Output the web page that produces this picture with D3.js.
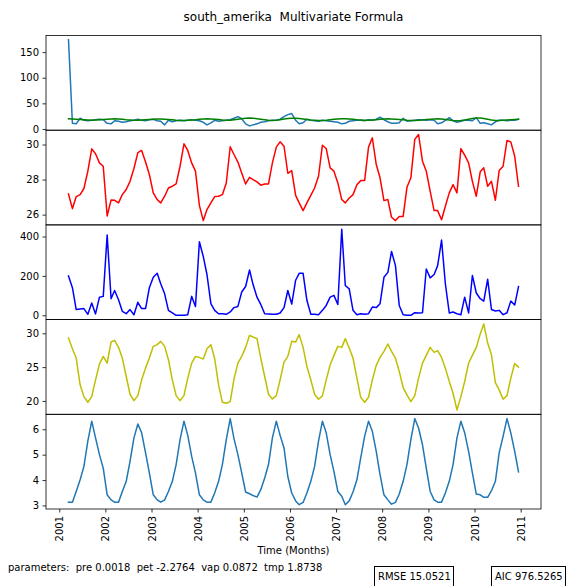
<!DOCTYPE html>
<html><head><meta charset="utf-8">
<script src="https://cdn.jsdelivr.net/npm/d3@7"></script>
<style>
body{margin:0;background:#fff}
svg{display:block}
text{font-family:"DejaVu Sans",sans-serif;fill:#000;white-space:pre}
</style>
</head><body>
<svg id="chart" width="568" height="586"></svg>
<script>
// ---- data ----
const titleText = "south_amerika  Multivariate Formula";
const startYear = 2001, startMonth = 3; // first monthly sample (March 2001)
const observed = [174,11,10,21,17,16,17,18,19,18,
 11,10,16,15,13,14,16,17,19,17,
 16,18,19,16,15,8,17,14,16,17,
 16,17,18,17,16,13,8,12,17,15,
 16,17,18,21,24,20,10,6,8,10,
 13,14,16,17,17,19,24,28,30,17,
 10,12,19,17,16,15,17,16,15,14,
 13,10,11,15,16,17,17,16,18,17,
 19,23,18,14,11,11,12,21,15,16,
 17,18,18,17,18,17,10,12,17,22,
 16,13,15,17,17,16,22,11,12,10,
 8,14,17,17,16,17,17,19];
const modelled = [20,19.5,19,18.5,18,17.5,17,17.5,18,18.5,19,19.5,
 20,19.5,19,18,17.5,17,17,17.5,18,18.5,19,19.5,
 19.5,19,18.5,18,17,16.5,16.5,17,17.5,18,19,19.5,
 20,19.5,19,18.5,17.5,17,17,18,19,20,21,21.5,
 21,20,19,18,17,16.5,17,18,19.5,20.5,21,21,
 20.5,19.5,18.5,17.5,17,16.5,16.5,17,18,19,19.5,20,
 20,19.5,19,18,17.5,17,17,17.5,18,19,19.5,20,
 19.5,19,18.5,18,17,16.5,16.5,17,17.5,18.5,19,19.5,
 20,19.5,18.5,17.5,16.5,16,16.5,17.5,19,20.5,21.5,21.5,
 20.5,19,17.5,16.5,16.5,17,17.5,18,18.5,19];
const tmpSeries = [27.18,26.34,27.03,27.14,27.49,28.48,29.75,29.47,28.95,28.76,
 25.92,26.84,26.82,26.67,27.14,27.43,27.90,28.63,29.54,29.66,
 29.00,28.29,27.24,26.86,26.67,27.05,27.52,27.62,27.75,28.76,
 30.04,29.66,28.95,28.48,26.53,25.66,26.29,26.67,27.03,27.05,
 27.14,27.81,29.87,29.43,29.00,28.38,27.75,28.13,28.00,27.87,
 27.68,27.75,27.75,28.95,29.85,30.15,29.90,28.36,28.51,27.10,
 26.67,26.23,26.67,27.10,27.52,28.19,29.96,29.77,28.67,28.48,
 27.81,26.86,26.67,26.95,27.14,27.71,27.94,27.94,29.85,30.38,
 28.86,28.10,26.80,26.86,25.85,25.66,25.90,25.90,27.56,28.10,
 30.29,30.57,29.05,28.48,27.33,26.23,26.23,25.71,26.48,27.24,
 27.71,27.24,29.77,29.39,28.95,27.90,27.05,28.44,28.67,27.62,
 27.90,26.82,28.51,28.76,30.23,30.15,29.33,27.62];
const preSeries = [200,140,29,32,34,5,62,7,92,96,
 408,84,126,79,20,8,29,3,66,34,
 34,140,193,213,160,109,25,12,0,0,
 0,3,96,45,373,298,207,59,25,8,
 8,5,17,39,45,118,146,230,156,92,
 55,8,7,5,5,12,39,126,57,178,
 213,213,76,5,5,3,25,50,92,101,
 55,437,151,134,25,3,8,5,8,42,
 39,59,193,218,324,252,50,3,0,0,
 13,12,13,235,190,207,252,382,160,12,
 17,8,3,92,12,202,113,84,72,183,
 29,22,25,3,13,72,52,146];
const vapSeries = [29.31,27.72,26.34,22.38,20.64,19.80,20.64,23.12,25.45,26.58,
 25.59,28.71,28.96,27.92,26.34,23.61,20.99,20.05,20.79,23.12,
 24.85,26.34,28.07,28.32,28.81,28.07,26.09,23.12,20.79,20.05,
 20.79,23.37,25.59,26.58,26.44,26.19,27.72,28.32,26.24,22.38,
 19.80,19.65,19.90,23.22,25.59,26.58,27.92,29.70,29.46,29.21,
 26.34,23.61,20.99,20.30,20.79,23.12,25.74,26.58,28.81,28.71,
 29.80,27.92,25.10,23.12,20.99,20.25,20.74,23.12,25.35,26.73,
 28.07,27.92,29.21,27.82,26.34,23.37,20.54,19.80,20.54,23.12,
 25.25,26.44,27.33,28.42,27.33,26.34,24.36,21.98,20.89,19.90,
 20.79,23.37,25.59,26.73,27.92,27.18,27.43,26.44,24.85,22.87,
 21.14,18.66,20.64,22.87,25.59,26.73,27.92,29.90,31.39,28.56,
 26.83,22.72,21.63,20.25,20.79,23.37,25.54,25.00];
const petSeries = [3.13,3.13,3.55,4.01,4.54,5.53,6.32,5.66,5.00,4.47,
 3.42,3.22,3.13,3.13,3.55,3.95,4.74,5.66,6.21,5.86,
 5.07,4.28,3.42,3.22,3.13,3.22,3.55,3.95,4.61,5.59,
 6.32,5.76,4.93,4.28,3.42,3.22,3.13,3.13,3.49,3.95,
 4.61,5.59,6.42,5.63,5.00,4.28,3.53,3.46,3.39,3.33,
 3.62,4.08,4.61,5.66,6.32,5.76,5.26,4.14,3.49,3.18,
 3.03,3.12,3.49,3.95,4.54,5.53,6.32,5.86,5.00,4.34,
 3.55,3.36,3.03,3.18,3.53,4.01,4.87,5.72,6.32,5.92,
 5.13,4.21,3.42,3.22,3.05,3.12,3.45,3.95,4.61,5.59,
 6.42,6.05,5.39,4.47,3.55,3.22,3.13,3.13,3.49,3.95,
 4.61,5.66,6.32,5.86,5.13,4.28,3.45,3.42,3.32,3.32,
 3.58,3.95,5.07,5.72,6.42,5.86,5.13,4.32];
const ticks1 = [0,50,100,150];
const ticks2 = [26,28,30];
const ticks3 = [0,200,400];
const ticks4 = [20,25,30];
const ticks5 = [3,4,5,6];
const yearTicks = [2001,2002,2003,2004,2005,2006,2007,2008,2009,2010,2011];
const xLabel = "Time (Months)";
const paramText = "parameters:  pre 0.0018  pet -2.2764  vap 0.0872  tmp 1.8738";
const rmseText = "RMSE 15.0521";
const aicText = "AIC 976.5265";

// ---- layout ----
const svg = d3.select("#chart");
const L = 46, R = 541, T = 35.5, B = 509;
const ph = (B - T) / 5;

const dates = observed.map((_, i) => new Date(startYear, startMonth - 1 + i, 15));
const t0 = +dates[0], t1 = +dates[dates.length - 1], span = t1 - t0;
const x = d3.scaleTime().domain([new Date(t0 - 0.05 * span), new Date(t1 + 0.05 * span)]).range([L, R]);

const panels = [
  {series: [{v: observed, c: "#1f77b4"}, {v: modelled, c: "#008000"}], ticks: ticks1},
  {series: [{v: tmpSeries, c: "#ff0000"}], ticks: ticks2},
  {series: [{v: preSeries, c: "#0000ff"}], ticks: ticks3},
  {series: [{v: vapSeries, c: "#bfbf00"}], ticks: ticks4},
  {series: [{v: petSeries, c: "#1f77b4"}], ticks: ticks5}
];

panels.forEach((p, k) => {
  const top = T + k * ph, bot = top + ph;
  const all = p.series.flatMap(s => s.v);
  const mn = d3.min(all), mx = d3.max(all), m = 0.05 * (mx - mn);
  const y = d3.scaleLinear().domain([mn - m, mx + m]).range([bot, top]);
  const g = svg.append("g");
  const clipId = "clip" + k;
  svg.append("clipPath").attr("id", clipId).append("rect")
    .attr("x", L).attr("y", top).attr("width", R - L).attr("height", ph);
  p.series.forEach(s => {
    g.append("path").datum(s.v)
      .attr("clip-path", `url(#${clipId})`)
      .attr("fill", "none").attr("stroke", s.c).attr("stroke-width", 1.5)
      .attr("stroke-linejoin", "round").attr("stroke-linecap", "square")
      .attr("d", d3.line().x((d, i) => x(dates[i])).y(d => y(d)));
  });
  const ax = g.append("g").attr("transform", `translate(${L},0)`)
    .call(d3.axisLeft(y).tickValues(p.ticks).tickFormat(d3.format("d")).tickSize(3.5).tickPadding(3.5));
  ax.select(".domain").remove();
  ax.selectAll("line").attr("stroke", "#000").attr("stroke-width", 0.8);
  ax.selectAll("text").attr("font-size", 10).attr("fill", "#000").style("font-family", "DejaVu Sans");
  g.append("rect").attr("x", L).attr("y", top).attr("width", R - L).attr("height", ph)
    .attr("fill", "none").attr("stroke", "#000").attr("stroke-width", 0.8);
});

// bottom x axis
const yearDates = yearTicks.map(yv => new Date(yv, 0, 1));
const xa = svg.append("g").attr("transform", `translate(0,${B})`)
  .call(d3.axisBottom(x).tickValues(yearDates).tickFormat(d3.timeFormat("%Y")).tickSize(3.5));
xa.select(".domain").remove();
xa.selectAll("line").attr("stroke", "#000").attr("stroke-width", 0.8);
xa.selectAll("text")
  .attr("transform", "rotate(-90)")
  .attr("text-anchor", "end")
  .attr("x", -7).attr("y", 0).attr("dy", "0.35em")
  .attr("font-size", 10).attr("fill", "#000").style("font-family", "DejaVu Sans");

// texts
svg.append("text").attr("x", (L + R) / 2).attr("y", 21).attr("text-anchor", "middle")
  .attr("font-size", 12).attr("xml:space", "preserve").text(titleText);
svg.append("text").attr("x", (L + R) / 2).attr("y", 554).attr("text-anchor", "middle")
  .attr("font-size", 10).text(xLabel);
svg.append("text").attr("x", 8).attr("y", 571).attr("font-size", 10)
  .attr("xml:space", "preserve").text(paramText);

function boxed(txt, x0, x1) {
  svg.append("rect").attr("x", x0 + 0.5).attr("y", 566.5).attr("width", x1 - x0).attr("height", 30)
    .attr("fill", "#fff").attr("stroke", "#000").attr("stroke-width", 1);
  svg.append("text").attr("x", x0 + 4).attr("y", 580).attr("font-size", 10).text(txt);
}
boxed(rmseText, 374, 453);
boxed(aicText, 491, 565);
</script>
</body></html>
